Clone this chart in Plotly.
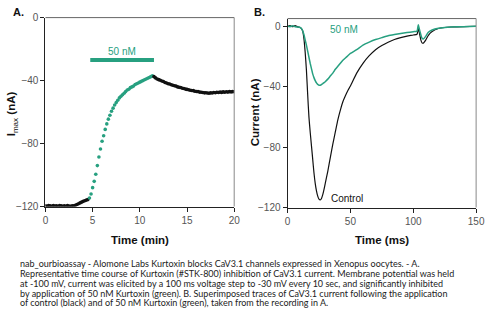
import numpy as np
import plotly.graph_objects as go

# ---------------- Panel A: time course of peak current (one sweep every 10 s) ----------------
SWEEP_MIN = 10 / 60

imax_control_pre = [
    -119.5, -119.8, -119.3, -119.6, -119.9, -119.4,
    -119.7, -119.5, -119.8, -119.3, -119.6, -119.9,
    -119.5, -119.8, -119.4, -119.7, -119.9, -119.5,
    -119.6, -119.2, -118.7, -118.2, -117.7, -117.2,
    -116.7, -116.3, -115.9, -115.6,
]
imax_kurtoxin = [
    -114.6, -112.0, -108.0, -104.0, -99.5, -94.0,
    -88.5, -83.5, -78.5, -75.0, -71.0, -67.5,
    -64.5, -62.0, -59.5, -57.5, -55.5, -54.0,
    -52.5, -51.0, -50.0, -49.0, -48.0, -47.0,
    -46.0, -45.5, -44.5, -44.0, -43.5, -42.5,
    -42.0, -41.5, -41.0, -40.5, -40.0, -39.5,
    -39.0, -38.5, -38.0, -37.5, -37.0,
]
imax_washout = [
    -37.5, -38.3, -39.0, -39.4, -39.8, -40.3, -40.6, -41.2, -41.5, -42.0,
    -42.2, -42.6, -43.0, -43.3, -43.5, -44.0, -44.3, -44.4, -44.9, -45.0,
    -45.4, -45.6, -45.8, -46.1, -46.3, -46.4, -46.8, -46.9, -47.0, -47.3,
    -47.4, -47.6, -47.8, -47.7, -47.9, -48.0, -47.8, -47.9, -47.6, -47.7,
    -47.4, -47.6, -47.3, -47.5, -47.2, -47.4, -47.1, -47.3, -47.0, -47.2,
    -47.0, -47.1,
]
kurtoxin_window = [4.75, 11.5]   # application period (min)
kurtoxin_bar_level = -27          # nA
kurtoxin_label = "50 nM"

n_pre, n_k = len(imax_control_pre), len(imax_kurtoxin)
t_pre = np.arange(n_pre) * SWEEP_MIN
t_k = (n_pre + np.arange(n_k)) * SWEEP_MIN
t_wash = (n_pre + n_k + np.arange(len(imax_washout))) * SWEEP_MIN

# ---------------- Panel B: superimposed current traces ----------------
trace_time_ms = [
    0, 2, 4, 6, 8, 10, 11, 12, 13, 14, 15, 16, 17, 18, 19, 20, 21, 22, 23, 24,
    25, 26, 27, 28, 29, 30, 32, 34, 36, 38, 40, 42, 44, 46, 48, 50, 55, 60, 65, 70,
    75, 80, 85, 90, 95, 100, 103, 104, 105, 106, 107, 108, 110, 112, 115, 120, 125, 130, 140, 150,
]
current_control = [
    0.0, 0.4, -0.3, 0.5, -0.4, -0.8, -1.5, -3.0, -8.0, -17.0, -29.0, -45.0, -60.0, -70.0, -79.0, -88.0, -97.0, -104.0, -109.0, -112.5,
    -114.5, -115.0, -114.0, -111.5, -108.0, -104.0, -96.0, -87.0, -78.0, -70.0, -62.0, -55.5, -50.0, -46.0, -42.5, -39.5, -31.0, -24.5, -19.5, -15.5,
    -12.8, -10.6, -8.8, -7.5, -6.5, -5.8, -5.3, -1.0, -5.0, -9.0, -11.0, -11.2, -9.0, -6.0, -3.5, -1.5, -0.8, -0.5, -0.2, 0.0,
]
current_kurtoxin = [
    0.0, -0.3, 0.3, -0.3, -0.5, -0.8, -1.5, -3.0, -5.5, -9.0, -12.5, -16.5, -20.5, -24.5, -28.0, -31.5, -34.0, -36.0, -37.5, -38.5,
    -39.0, -39.0, -38.6, -38.0, -37.3, -36.7, -35.0, -33.0, -31.0, -28.5, -26.5, -24.5, -22.5, -21.0, -19.5, -18.0, -15.5, -12.5, -10.5, -8.8,
    -7.5, -6.3, -5.5, -4.8, -4.2, -3.6, -3.2, 1.0, -2.5, -5.5, -8.0, -8.4, -6.5, -4.0, -2.5, -1.3, -0.8, -0.5, -0.3, 0.0,
]

x_ticks_a = [0, 5, 10, 15, 20]
x_ticks_b = [0, 50, 100, 150]
y_ticks = [0, -40, -80, -120]

caption_lines = [
    "nab_ourbioassay - Alomone Labs Kurtoxin blocks CaV3.1 channels expressed in Xenopus oocytes. - A.",
    "Representative time course of Kurtoxin (#STK-800) inhibition of CaV3.1 current. Membrane potential was held",
    "at -100 mV, current was elicited by a 100 ms voltage step to -30 mV every 10 sec, and significantly inhibited",
    "by application of 50 nM Kurtoxin (green). B. Superimposed traces of CaV3.1 current following the application",
    "of control (black) and of 50 nM Kurtoxin (green), taken from the recording in A.",
]

GREEN = "#27a080"
BLACK = "#111111"
W, H = 490, 322
NARROW = "Liberation Sans Narrow, Arial Narrow, sans-serif"
SANS = "Liberation Sans, Arial, sans-serif"


def px_x(p):
    return p / W


def px_y(p):
    return 1 - p / H


fig = go.Figure()

dot = dict(size=3.6, line=dict(width=0))
fig.add_trace(go.Scatter(x=t_pre, y=imax_control_pre, mode="markers",
                         marker=dict(color=BLACK, **dot), xaxis="x", yaxis="y"))
fig.add_trace(go.Scatter(x=t_k, y=imax_kurtoxin, mode="markers",
                         marker=dict(color=GREEN, **dot), xaxis="x", yaxis="y"))
fig.add_trace(go.Scatter(x=t_wash, y=imax_washout, mode="markers",
                         marker=dict(color=BLACK, **dot), xaxis="x", yaxis="y"))
# application bar
fig.add_trace(go.Scatter(x=kurtoxin_window, y=[kurtoxin_bar_level] * 2, mode="lines",
                         line=dict(color=GREEN, width=4), xaxis="x", yaxis="y"))

fig.add_trace(go.Scatter(x=trace_time_ms, y=current_control, mode="lines",
                         line=dict(color=BLACK, width=1.2, shape="spline", smoothing=0.5),
                         xaxis="x2", yaxis="y2"))
fig.add_trace(go.Scatter(x=trace_time_ms, y=current_kurtoxin, mode="lines",
                         line=dict(color=GREEN, width=1.5, shape="spline", smoothing=0.5),
                         xaxis="x2", yaxis="y2"))

tickfont = dict(family=NARROW, size=10, color="#555555")
axis_common = dict(showline=True, linecolor="#222222", linewidth=1, mirror=False,
                   ticks="outside", ticklen=4, tickcolor="#222222", tickwidth=1,
                   showgrid=False, zeroline=False, tickfont=tickfont, fixedrange=True)

dom_ax = [px_x(43.5), px_x(237)]
dom_ay = [px_y(208), px_y(13)]
dom_bx = [px_x(291.7), px_x(485)]
dom_by = [px_y(209), px_y(14)]

fig.update_layout(
    width=W, height=H, margin=dict(l=0, r=0, t=0, b=0),
    paper_bgcolor="white", plot_bgcolor="white", showlegend=False,
    xaxis=dict(domain=dom_ax, range=[0, 20], tickvals=x_ticks_a, anchor="y", **axis_common),
    yaxis=dict(domain=dom_ay, range=[-120, 0], tickvals=y_ticks, anchor="x", **axis_common),
    xaxis2=dict(domain=dom_bx, range=[0, 150], tickvals=x_ticks_b, anchor="y2", **axis_common),
    yaxis2=dict(domain=dom_by, range=[-120, 5.1], tickvals=y_ticks, anchor="x2", **axis_common),
)

# top/right frame edges
for xd, yd in [(dom_ax, dom_ay), (dom_bx, dom_by)]:
    fig.add_shape(type="line", xref="paper", yref="paper", x0=xd[0], x1=xd[1], y0=yd[1], y1=yd[1],
                  line=dict(color="#666666", width=1))
    fig.add_shape(type="line", xref="paper", yref="paper", x0=xd[1], x1=xd[1], y0=yd[0], y1=yd[1],
                  line=dict(color="#888888", width=1))

ann = []
title_font = dict(family=SANS, size=11.5, color="#111111")
ann.append(dict(text="<b>Time (min)</b>", x=sum(dom_ax) / 2, y=px_y(243), xref="paper", yref="paper",
                showarrow=False, font=title_font, xanchor="center", yanchor="middle"))
ann.append(dict(text="<b>Time (ms)</b>", x=sum(dom_bx) / 2, y=px_y(243), xref="paper", yref="paper",
                showarrow=False, font=title_font, xanchor="center", yanchor="middle"))
ann.append(dict(text="<b>I</b><sub>max</sub><b> (nA)</b>", x=px_x(9), y=px_y(112), xref="paper", yref="paper",
                showarrow=False, font=title_font, textangle=-90, xanchor="center", yanchor="middle"))
ann.append(dict(text="<b>Current (nA)</b>", x=px_x(258), y=px_y(111), xref="paper", yref="paper",
                showarrow=False, font=title_font, textangle=-90, xanchor="center", yanchor="middle"))
ann.append(dict(text="<b>A.</b>", x=px_x(8), y=px_y(7), xref="paper", yref="paper", showarrow=False,
                font=dict(family=SANS, size=11, color="#111111"), xanchor="left", yanchor="middle"))
ann.append(dict(text="<b>B.</b>", x=px_x(255), y=px_y(7.5), xref="paper", yref="paper", showarrow=False,
                font=dict(family=SANS, size=11, color="#111111"), xanchor="left", yanchor="middle"))

# in-plot labels
ann.append(dict(text=kurtoxin_label, x=sum(kurtoxin_window) / 2, y=-21.5, xref="x", yref="y",
                showarrow=False, font=dict(family=NARROW, size=10, color=GREEN),
                xanchor="center", yanchor="middle"))
ann.append(dict(text=kurtoxin_label, x=45, y=-2, xref="x2", yref="y2", showarrow=False,
                font=dict(family=NARROW, size=10, color=GREEN), xanchor="center", yanchor="middle"))
ann.append(dict(text="Control", x=47.5, y=-114.2, xref="x2", yref="y2", showarrow=False,
                font=dict(family=NARROW, size=10, color="#111111"), xanchor="center", yanchor="middle"))

# caption
cap_y = [267.3, 277.6, 287.4, 297.4, 307.4]
for line, yp in zip(caption_lines, cap_y):
    ann.append(dict(text=line, x=px_x(15), y=px_y(yp), xref="paper", yref="paper", showarrow=False,
                    font=dict(family="Lato, Carlito, sans-serif", size=9.0, color="#222222"),
                    xanchor="left", yanchor="middle"))

fig.update_layout(annotations=ann)
fig.write_html("out.html")
